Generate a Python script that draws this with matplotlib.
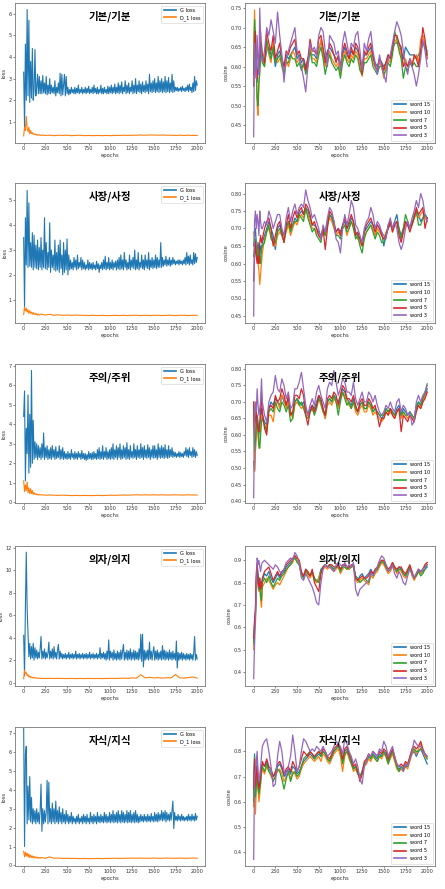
import numpy as np
import matplotlib
matplotlib.use('Agg')
import matplotlib.pyplot as plt
from matplotlib.ticker import MultipleLocator

plt.rcParams['font.family'] = ['DejaVu Sans', 'Noto Sans CJK KR']

# 에폭 (x축)
loss_epochs = np.arange(0, 2001, 10)
d_epochs = np.concatenate([np.arange(0, 200, 10), np.arange(200, 2001, 50)])
cos_epochs = np.concatenate([np.arange(0, 100, 10), np.arange(100, 2001, 25)])

titles = ['기본/기분', '사장/사정', '주의/주위', '의자/의지', '자식/지식']
word_labels = ['word 15', 'word 10', 'word 7', 'word 5', 'word 3']

# ---------------- 기본/기분 ----------------
g1 = [3.3, 0.75, 4.6, 2.0, 6.2, 2.2, 5.7, 1.9, 3.8, 2.1,
      4.4, 2.0, 2.5, 4.35, 2.2, 2.6, 3.2, 2.3, 3.1, 2.3,
      2.9, 2.3, 3.15, 2.35, 2.8, 2.3, 3.1, 2.25, 2.7, 2.3,
      3.0, 2.3, 2.7, 2.35, 2.6, 2.3, 2.9, 2.2, 2.6, 2.35,
      2.8, 2.3, 3.25, 2.2, 3.2, 2.25, 2.7, 3.2, 2.2, 3.1,
      2.3, 2.6, 2.25, 2.5, 2.3, 2.6, 2.35, 2.5, 2.3, 2.6,
      2.3, 2.55, 2.35, 2.7, 2.3, 2.5, 2.35, 2.6, 2.3, 2.5,
      2.35, 2.6, 2.3, 2.55, 2.35, 2.65, 2.3, 2.5, 2.35, 2.6,
      2.3, 2.7, 2.35, 2.55, 2.3, 2.6, 2.3, 2.5, 2.35, 2.7,
      2.3, 2.55, 2.3, 2.6, 2.35, 2.5, 2.3, 2.65, 2.3, 2.6,
      2.35, 2.7, 2.3, 2.6, 2.35, 2.75, 2.3, 2.6, 2.35, 2.8,
      2.3, 2.7, 2.35, 2.85, 2.3, 2.6, 2.4, 2.9, 2.3, 2.7,
      2.35, 2.8, 2.3, 2.6, 2.4, 2.9, 2.3, 2.7, 2.35, 3.0,
      2.3, 2.7, 2.4, 2.9, 2.35, 2.75, 2.3, 2.85, 2.4, 2.7,
      2.35, 2.9, 2.4, 2.75, 2.3, 3.2, 2.4, 2.8, 2.35, 2.9,
      2.4, 3.0, 2.35, 2.8, 2.4, 3.1, 2.35, 2.9, 2.4, 3.0,
      2.35, 2.85, 2.4, 3.1, 2.35, 2.9, 2.4, 3.05, 2.35, 2.8,
      2.4, 3.2, 2.35, 2.9, 2.4, 2.6, 2.45, 2.6, 2.4, 2.55,
      2.45, 2.6, 2.4, 2.65, 2.45, 2.55, 2.4, 2.6, 2.45, 2.7,
      2.4, 2.75, 2.45, 2.6, 2.35, 2.8, 2.4, 3.1, 2.45, 2.9,
      2.7]
d1 = [0.35, 0.75, 0.6, 1.25, 0.7, 0.55, 0.75, 0.45, 0.6, 0.45,
      0.5, 0.42, 0.45, 0.4, 0.43, 0.38, 0.41, 0.38, 0.4, 0.37,
      0.39, 0.37, 0.38, 0.36, 0.38, 0.37, 0.38, 0.36, 0.37, 0.38,
      0.36, 0.37, 0.36, 0.37, 0.36, 0.37, 0.36, 0.37, 0.37, 0.38,
      0.37, 0.38, 0.38, 0.39, 0.38, 0.39, 0.39, 0.38, 0.39, 0.38,
      0.38, 0.37, 0.38, 0.37, 0.38, 0.37, 0.37]
c1_w15 = [0.60, 0.70, 0.64, 0.60, 0.56, 0.60, 0.63, 0.60, 0.64, 0.66,
          0.63, 0.61, 0.64, 0.65, 0.63, 0.64, 0.60, 0.63,
          0.64, 0.62, 0.60, 0.63, 0.62, 0.63, 0.64, 0.65,
          0.62, 0.63, 0.61, 0.62, 0.60, 0.62, 0.64, 0.63,
          0.63, 0.62, 0.65, 0.66, 0.64, 0.62, 0.64, 0.65,
          0.64, 0.63, 0.62, 0.62, 0.60, 0.63, 0.65, 0.63,
          0.62, 0.64, 0.63, 0.65, 0.64, 0.62, 0.60, 0.63,
          0.63, 0.64, 0.65, 0.62, 0.61, 0.60, 0.62, 0.61,
          0.60, 0.61, 0.63, 0.62, 0.64, 0.66, 0.66, 0.66,
          0.64, 0.62, 0.65, 0.64, 0.63, 0.63, 0.63, 0.62,
          0.63, 0.64, 0.66, 0.65, 0.64]
c1_w10 = [0.62, 0.745, 0.66, 0.58, 0.50, 0.475, 0.55, 0.60, 0.62, 0.64,
          0.62, 0.60, 0.66, 0.63, 0.61, 0.66, 0.62, 0.61,
          0.62, 0.61, 0.59, 0.62, 0.60, 0.62, 0.64, 0.63,
          0.61, 0.62, 0.60, 0.60, 0.59, 0.61, 0.65, 0.62,
          0.62, 0.61, 0.64, 0.67, 0.63, 0.60, 0.62, 0.64,
          0.62, 0.61, 0.60, 0.61, 0.58, 0.62, 0.64, 0.62,
          0.61, 0.63, 0.62, 0.64, 0.63, 0.60, 0.575, 0.62,
          0.62, 0.63, 0.64, 0.61, 0.60, 0.59, 0.61, 0.60,
          0.57, 0.60, 0.62, 0.61, 0.64, 0.67, 0.66, 0.65,
          0.63, 0.60, 0.62, 0.60, 0.62, 0.61, 0.62, 0.63,
          0.61, 0.67, 0.68, 0.66, 0.63]
c1_w7 = [0.58, 0.72, 0.67, 0.60, 0.52, 0.50, 0.56, 0.58, 0.63, 0.65,
         0.61, 0.60, 0.67, 0.64, 0.62, 0.65, 0.61, 0.62,
         0.63, 0.60, 0.58, 0.61, 0.61, 0.63, 0.62, 0.62,
         0.60, 0.61, 0.59, 0.61, 0.58, 0.60, 0.64, 0.61,
         0.61, 0.60, 0.63, 0.65, 0.62, 0.58, 0.61, 0.63,
         0.61, 0.60, 0.59, 0.60, 0.57, 0.61, 0.63, 0.61,
         0.60, 0.62, 0.61, 0.63, 0.62, 0.59, 0.58, 0.61,
         0.61, 0.62, 0.63, 0.60, 0.59, 0.58, 0.60, 0.60,
         0.58, 0.59, 0.61, 0.60, 0.63, 0.69, 0.67, 0.64,
         0.62, 0.57, 0.60, 0.59, 0.61, 0.60, 0.61, 0.60,
         0.60, 0.64, 0.66, 0.66, 0.63]
c1_w5 = [0.55, 0.64, 0.69, 0.62, 0.57, 0.59, 0.60, 0.63, 0.69, 0.64,
         0.63, 0.61, 0.69, 0.66, 0.64, 0.68, 0.62, 0.64,
         0.66, 0.62, 0.60, 0.64, 0.63, 0.65, 0.66, 0.67,
         0.63, 0.64, 0.62, 0.62, 0.59, 0.62, 0.67, 0.64,
         0.64, 0.63, 0.67, 0.68, 0.65, 0.61, 0.63, 0.66,
         0.65, 0.63, 0.61, 0.63, 0.60, 0.64, 0.66, 0.64,
         0.62, 0.65, 0.63, 0.66, 0.65, 0.62, 0.58, 0.64,
         0.63, 0.65, 0.66, 0.63, 0.60, 0.59, 0.62, 0.61,
         0.59, 0.61, 0.63, 0.62, 0.65, 0.68, 0.68, 0.66,
         0.65, 0.60, 0.61, 0.60, 0.62, 0.60, 0.63, 0.62,
         0.60, 0.64, 0.70, 0.67, 0.62]
c1_w3 = [0.42, 0.66, 0.60, 0.57, 0.68, 0.62, 0.58, 0.75, 0.67, 0.63,
         0.61, 0.64, 0.70, 0.68, 0.72, 0.69, 0.66, 0.74,
         0.68, 0.63, 0.56, 0.62, 0.64, 0.66, 0.68, 0.70,
         0.64, 0.62, 0.60, 0.57, 0.535, 0.60, 0.66, 0.64,
         0.65, 0.63, 0.68, 0.70, 0.69, 0.64, 0.60, 0.68,
         0.67, 0.66, 0.63, 0.64, 0.59, 0.66, 0.69, 0.66,
         0.63, 0.66, 0.65, 0.68, 0.69, 0.64, 0.59, 0.66,
         0.64, 0.67, 0.69, 0.64, 0.61, 0.58, 0.63, 0.60,
         0.58, 0.56, 0.62, 0.63, 0.66, 0.69, 0.715, 0.70,
         0.68, 0.64, 0.60, 0.58, 0.62, 0.60, 0.58, 0.55,
         0.58, 0.62, 0.67, 0.64, 0.60]

# ---------------- 사장/사정 ----------------
g2 = [3.5, 0.65, 4.3, 2.4, 5.4, 2.3, 4.9, 2.35, 3.3, 2.3,
      3.7, 2.2, 3.6, 2.3, 3.2, 2.25, 3.4, 2.2, 3.1, 2.3,
      3.5, 2.2, 3.0, 2.3, 4.3, 2.25, 3.3, 2.2, 2.9, 2.3,
      4.1, 2.1, 3.0, 2.3, 2.8, 2.2, 3.4, 2.15, 2.9, 2.2,
      3.2, 2.1, 3.4, 2.25, 2.8, 2.0, 3.3, 2.1, 3.0, 2.2,
      3.45, 2.0, 2.8, 2.2, 2.6, 2.25, 2.5, 2.2, 2.7, 2.3,
      2.6, 2.2, 2.8, 2.25, 2.5, 2.3, 2.7, 2.2, 2.6, 2.25,
      2.5, 2.2, 2.4, 2.25, 2.6, 2.2, 2.5, 2.25, 2.45, 2.2,
      2.5, 2.25, 2.4, 2.2, 2.55, 2.25, 2.45, 2.1, 2.4, 2.25,
      2.5, 2.2, 2.6, 2.25, 2.75, 2.2, 2.5, 2.25, 2.7, 2.2,
      2.5, 2.25, 2.6, 2.2, 2.5, 2.3, 2.55, 2.2, 2.6, 2.25,
      2.7, 2.2, 2.8, 2.25, 2.6, 2.2, 2.9, 2.3, 2.6, 2.2,
      2.5, 2.25, 2.8, 2.2, 2.6, 2.3, 2.7, 2.25, 3.0, 2.2,
      2.6, 2.25, 2.9, 2.2, 2.5, 2.3, 2.8, 2.25, 2.6, 2.2,
      2.8, 2.3, 2.6, 2.25, 2.9, 2.2, 2.6, 2.3, 2.7, 2.25,
      2.6, 2.3, 2.8, 2.25, 2.7, 2.3, 2.6, 2.3, 3.3, 2.3,
      2.7, 2.35, 2.6, 2.4, 2.75, 2.35, 2.6, 2.4, 2.7, 2.35,
      2.6, 2.4, 2.7, 2.45, 2.6, 2.4, 2.55, 2.45, 2.6, 2.4,
      2.6, 2.45, 2.55, 2.4, 2.6, 2.45, 2.7, 2.4, 2.9, 2.45,
      2.75, 2.4, 2.8, 2.45, 2.6, 2.4, 2.9, 2.45, 2.85, 2.5,
      2.7]
d2 = [0.4, 0.7, 0.55, 0.65, 0.5, 0.6, 0.45, 0.55, 0.45, 0.5,
      0.42, 0.48, 0.4, 0.45, 0.39, 0.43, 0.38, 0.42, 0.38, 0.4,
      0.42, 0.38, 0.41, 0.37, 0.39, 0.37, 0.38, 0.37, 0.38, 0.37,
      0.37, 0.36, 0.37, 0.36, 0.37, 0.36, 0.36, 0.37, 0.36, 0.37,
      0.36, 0.37, 0.37, 0.36, 0.37, 0.36, 0.37, 0.37, 0.36, 0.37,
      0.37, 0.36, 0.37, 0.37, 0.36, 0.37, 0.37]
c2_w15 = [0.65, 0.68, 0.70, 0.66, 0.63, 0.66, 0.64, 0.62, 0.65, 0.64,
          0.66, 0.68, 0.70, 0.72, 0.70, 0.68, 0.64, 0.70,
          0.71, 0.69, 0.68, 0.70, 0.72, 0.70, 0.71, 0.73,
          0.72, 0.74, 0.75, 0.74, 0.76, 0.75, 0.73, 0.71,
          0.71, 0.70, 0.69, 0.68, 0.70, 0.69, 0.72, 0.74,
          0.73, 0.71, 0.69, 0.70, 0.69, 0.71, 0.72, 0.70,
          0.71, 0.73, 0.72, 0.69, 0.68, 0.67, 0.66, 0.69,
          0.70, 0.71, 0.72, 0.71, 0.70, 0.71, 0.70, 0.69,
          0.65, 0.68, 0.70, 0.71, 0.70, 0.72, 0.74, 0.70,
          0.68, 0.70, 0.72, 0.71, 0.70, 0.72, 0.73, 0.75,
          0.74, 0.72, 0.73, 0.74, 0.73]
c2_w10 = [0.69, 0.66, 0.63, 0.66, 0.62, 0.60, 0.58, 0.54, 0.57, 0.60,
          0.63, 0.67, 0.69, 0.70, 0.68, 0.66, 0.65, 0.68,
          0.69, 0.68, 0.67, 0.69, 0.71, 0.68, 0.70, 0.72,
          0.71, 0.73, 0.74, 0.73, 0.75, 0.74, 0.72, 0.70,
          0.70, 0.69, 0.68, 0.67, 0.69, 0.68, 0.71, 0.73,
          0.72, 0.70, 0.68, 0.69, 0.68, 0.70, 0.71, 0.68,
          0.70, 0.72, 0.71, 0.68, 0.67, 0.66, 0.65, 0.68,
          0.69, 0.70, 0.71, 0.70, 0.68, 0.70, 0.69, 0.68,
          0.67, 0.69, 0.70, 0.72, 0.69, 0.71, 0.72, 0.69,
          0.67, 0.69, 0.71, 0.72, 0.70, 0.71, 0.73, 0.74,
          0.73, 0.74, 0.75, 0.73, 0.72]
c2_w7 = [0.62, 0.65, 0.67, 0.63, 0.61, 0.64, 0.60, 0.62, 0.60, 0.64,
         0.65, 0.66, 0.69, 0.71, 0.67, 0.66, 0.66, 0.69,
         0.70, 0.68, 0.66, 0.70, 0.72, 0.69, 0.71, 0.72,
         0.72, 0.74, 0.73, 0.72, 0.76, 0.73, 0.71, 0.69,
         0.70, 0.68, 0.67, 0.66, 0.70, 0.68, 0.71, 0.74,
         0.73, 0.71, 0.68, 0.68, 0.67, 0.70, 0.71, 0.69,
         0.70, 0.72, 0.70, 0.67, 0.68, 0.65, 0.63, 0.67,
         0.69, 0.70, 0.71, 0.69, 0.67, 0.69, 0.68, 0.66,
         0.66, 0.68, 0.71, 0.72, 0.70, 0.71, 0.72, 0.70,
         0.67, 0.70, 0.74, 0.72, 0.70, 0.71, 0.74, 0.75,
         0.71, 0.71, 0.73, 0.74, 0.73]
c2_w5 = [0.55, 0.62, 0.66, 0.62, 0.60, 0.62, 0.60, 0.66, 0.68, 0.66,
         0.67, 0.70, 0.72, 0.73, 0.70, 0.65, 0.68, 0.71,
         0.72, 0.69, 0.66, 0.71, 0.74, 0.70, 0.73, 0.75,
         0.73, 0.75, 0.76, 0.74, 0.77, 0.76, 0.74, 0.71,
         0.72, 0.70, 0.68, 0.67, 0.70, 0.64, 0.70, 0.75,
         0.74, 0.72, 0.69, 0.70, 0.68, 0.71, 0.73, 0.70,
         0.72, 0.74, 0.72, 0.68, 0.69, 0.67, 0.65, 0.69,
         0.71, 0.72, 0.73, 0.71, 0.69, 0.71, 0.70, 0.68,
         0.67, 0.68, 0.70, 0.72, 0.69, 0.71, 0.72, 0.68,
         0.66, 0.69, 0.72, 0.71, 0.69, 0.71, 0.73, 0.76,
         0.74, 0.75, 0.76, 0.70, 0.73]
c2_w3 = [0.45, 0.72, 0.75, 0.70, 0.74, 0.72, 0.68, 0.75, 0.72, 0.70,
         0.70, 0.72, 0.71, 0.75, 0.73, 0.70, 0.72, 0.74,
         0.74, 0.70, 0.68, 0.73, 0.76, 0.72, 0.75, 0.77,
         0.74, 0.76, 0.77, 0.76, 0.81, 0.78, 0.76, 0.73,
         0.74, 0.72, 0.70, 0.67, 0.71, 0.69, 0.73, 0.76,
         0.75, 0.72, 0.67, 0.66, 0.63, 0.70, 0.74, 0.71,
         0.74, 0.78, 0.76, 0.71, 0.70, 0.68, 0.66, 0.70,
         0.72, 0.73, 0.76, 0.74, 0.70, 0.72, 0.71, 0.69,
         0.68, 0.67, 0.71, 0.73, 0.70, 0.72, 0.70, 0.66,
         0.64, 0.66, 0.70, 0.72, 0.70, 0.73, 0.75, 0.78,
         0.76, 0.80, 0.78, 0.74, 0.72]

# ---------------- 주의/주위 ----------------
g3 = [4.4, 5.7, 1.1, 3.8, 2.5, 5.5, 1.5, 4.5, 1.8, 6.75,
      2.0, 4.2, 2.2, 3.1, 2.3, 3.0, 2.2, 2.9, 2.3, 2.8,
      2.2, 3.0, 2.3, 3.55, 2.2, 2.8, 2.3, 2.9, 2.2, 2.7,
      2.25, 2.8, 2.2, 2.9, 2.3, 2.7, 2.2, 2.85, 2.25, 2.6,
      2.3, 2.9, 2.2, 2.7, 2.25, 2.8, 2.2, 2.6, 2.25, 2.5,
      2.2, 2.6, 2.25, 2.5, 2.2, 2.7, 2.3, 2.5, 2.2, 2.6,
      2.25, 2.5, 2.2, 2.6, 2.3, 2.5, 2.2, 2.65, 2.25, 2.5,
      2.2, 2.5, 2.15, 2.45, 2.2, 2.6, 2.25, 2.5, 2.2, 2.55,
      2.2, 2.6, 2.25, 2.5, 2.2, 2.7, 2.25, 2.8, 2.2, 2.6,
      2.25, 2.9, 2.2, 2.6, 2.3, 2.8, 2.2, 2.6, 2.25, 2.7,
      2.2, 2.8, 2.25, 3.0, 2.2, 2.7, 2.3, 2.9, 2.2, 2.8,
      2.3, 3.0, 2.2, 2.7, 2.25, 2.9, 2.3, 2.8, 2.2, 3.05,
      2.25, 2.7, 2.2, 2.9, 2.3, 2.6, 2.25, 3.0, 2.3, 2.7,
      2.2, 2.9, 2.3, 2.7, 2.25, 3.0, 2.3, 2.8, 2.2, 2.9,
      2.3, 2.7, 2.25, 2.95, 2.3, 2.8, 2.2, 2.7, 2.3, 2.9,
      2.25, 2.9, 2.3, 2.7, 2.2, 3.0, 2.3, 2.8, 2.25, 2.9,
      2.3, 2.8, 2.25, 2.95, 2.3, 2.7, 2.25, 2.9, 2.3, 2.7,
      2.35, 2.8, 2.3, 2.6, 2.35, 2.55, 2.3, 2.5, 2.35, 2.6,
      2.3, 2.55, 2.35, 2.5, 2.3, 2.6, 2.4, 2.8, 2.35, 2.7,
      2.3, 2.8, 2.4, 2.6, 2.3, 2.8, 2.35, 2.7, 2.3, 2.6,
      2.4]
d3 = [1.1, 0.55, 0.9, 0.6, 1.05, 0.5, 0.75, 0.45, 0.7, 0.45,
      0.6, 0.42, 0.5, 0.4, 0.45, 0.39, 0.42, 0.38, 0.4, 0.38,
      0.39, 0.37, 0.38, 0.37, 0.36, 0.37, 0.36, 0.35, 0.36, 0.35,
      0.36, 0.35, 0.35, 0.36, 0.35, 0.36, 0.37, 0.36, 0.37, 0.38,
      0.37, 0.38, 0.39, 0.38, 0.39, 0.38, 0.39, 0.38, 0.39, 0.38,
      0.38, 0.39, 0.38, 0.38, 0.39, 0.38, 0.38]
c3_w15 = [0.52, 0.49, 0.55, 0.62, 0.66, 0.64, 0.60, 0.63, 0.65, 0.68,
          0.66, 0.64, 0.63, 0.68, 0.70, 0.69, 0.71, 0.70,
          0.69, 0.72, 0.70, 0.69, 0.71, 0.67, 0.66, 0.70,
          0.71, 0.70, 0.69, 0.70, 0.68, 0.66, 0.68, 0.69,
          0.68, 0.70, 0.72, 0.70, 0.68, 0.65, 0.70, 0.71,
          0.70, 0.72, 0.71, 0.70, 0.72, 0.74, 0.73, 0.71,
          0.70, 0.69, 0.71, 0.68, 0.67, 0.69, 0.70, 0.68,
          0.68, 0.70, 0.69, 0.67, 0.68, 0.67, 0.66, 0.65,
          0.66, 0.68, 0.67, 0.68, 0.67, 0.66, 0.68, 0.69,
          0.66, 0.68, 0.67, 0.66, 0.67, 0.66, 0.65, 0.69,
          0.70, 0.69, 0.71, 0.72, 0.74]
c3_w10 = [0.70, 0.49, 0.56, 0.60, 0.64, 0.60, 0.56, 0.58, 0.62, 0.66,
          0.65, 0.63, 0.62, 0.66, 0.66, 0.64, 0.69, 0.70,
          0.68, 0.72, 0.71, 0.68, 0.70, 0.67, 0.65, 0.69,
          0.70, 0.69, 0.68, 0.69, 0.67, 0.66, 0.67, 0.68,
          0.67, 0.69, 0.71, 0.69, 0.67, 0.65, 0.69, 0.70,
          0.69, 0.71, 0.70, 0.68, 0.71, 0.73, 0.72, 0.70,
          0.69, 0.68, 0.70, 0.67, 0.66, 0.68, 0.69, 0.67,
          0.67, 0.69, 0.68, 0.66, 0.67, 0.66, 0.65, 0.64,
          0.65, 0.67, 0.66, 0.67, 0.66, 0.65, 0.67, 0.68,
          0.65, 0.67, 0.66, 0.65, 0.66, 0.65, 0.64, 0.68,
          0.69, 0.68, 0.70, 0.72, 0.73]
c3_w7 = [0.69, 0.55, 0.58, 0.62, 0.65, 0.62, 0.57, 0.56, 0.60, 0.64,
         0.65, 0.63, 0.61, 0.67, 0.68, 0.67, 0.70, 0.68,
         0.67, 0.70, 0.69, 0.67, 0.69, 0.64, 0.65, 0.70,
         0.71, 0.69, 0.70, 0.68, 0.66, 0.65, 0.67, 0.68,
         0.66, 0.68, 0.71, 0.70, 0.67, 0.66, 0.70, 0.71,
         0.70, 0.72, 0.70, 0.66, 0.70, 0.73, 0.71, 0.69,
         0.70, 0.68, 0.70, 0.68, 0.67, 0.69, 0.70, 0.68,
         0.68, 0.70, 0.69, 0.67, 0.68, 0.67, 0.66, 0.66,
         0.66, 0.68, 0.67, 0.68, 0.67, 0.66, 0.67, 0.68,
         0.66, 0.67, 0.66, 0.66, 0.67, 0.66, 0.65, 0.68,
         0.70, 0.69, 0.71, 0.73, 0.755]
c3_w5 = [0.70, 0.60, 0.65, 0.68, 0.63, 0.62, 0.61, 0.64, 0.68, 0.73,
         0.67, 0.62, 0.60, 0.68, 0.69, 0.68, 0.72, 0.70,
         0.71, 0.74, 0.72, 0.69, 0.72, 0.66, 0.67, 0.72,
         0.72, 0.71, 0.74, 0.72, 0.66, 0.63, 0.67, 0.69,
         0.67, 0.69, 0.72, 0.71, 0.68, 0.66, 0.71, 0.72,
         0.71, 0.73, 0.72, 0.69, 0.72, 0.75, 0.74, 0.71,
         0.71, 0.70, 0.72, 0.69, 0.67, 0.70, 0.71, 0.69,
         0.69, 0.71, 0.70, 0.68, 0.69, 0.66, 0.625, 0.65,
         0.65, 0.67, 0.66, 0.68, 0.66, 0.65, 0.67, 0.68,
         0.61, 0.66, 0.65, 0.64, 0.66, 0.65, 0.64, 0.67,
         0.69, 0.68, 0.70, 0.71, 0.73]
c3_w3 = [0.41, 0.64, 0.70, 0.67, 0.74, 0.69, 0.66, 0.68, 0.70, 0.77,
         0.70, 0.66, 0.64, 0.70, 0.72, 0.73, 0.78, 0.74,
         0.73, 0.77, 0.75, 0.71, 0.73, 0.68, 0.69, 0.74,
         0.74, 0.76, 0.79, 0.74, 0.69, 0.66, 0.69, 0.71,
         0.69, 0.73, 0.75, 0.72, 0.70, 0.68, 0.74, 0.76,
         0.75, 0.795, 0.76, 0.72, 0.74, 0.77, 0.76, 0.73,
         0.73, 0.72, 0.76, 0.71, 0.69, 0.71, 0.73, 0.70,
         0.70, 0.73, 0.72, 0.70, 0.72, 0.69, 0.67, 0.66,
         0.67, 0.69, 0.68, 0.70, 0.68, 0.67, 0.70, 0.71,
         0.67, 0.69, 0.68, 0.66, 0.67, 0.63, 0.64, 0.70,
         0.72, 0.70, 0.72, 0.73, 0.75]

# ---------------- 의자/의지 ----------------
g4 = [4.2, 0.6, 6.8, 11.6, 6.5, 4.5, 2.3, 3.5, 2.1, 3.2,
      2.2, 3.5, 2.0, 3.1, 2.2, 2.9, 2.1, 2.7, 2.2, 3.0,
      4.1, 2.1, 2.8, 2.2, 3.0, 2.1, 2.7, 2.2, 2.6, 3.6,
      2.1, 2.8, 2.2, 3.0, 2.1, 3.2, 2.2, 2.7, 2.1, 2.9,
      3.4, 2.1, 2.8, 2.2, 2.6, 2.1, 2.5, 2.2, 2.6, 2.1,
      2.5, 2.2, 2.7, 2.1, 2.5, 2.2, 2.6, 2.1, 2.5, 2.2,
      2.8, 2.1, 2.5, 2.2, 2.6, 2.1, 2.5, 2.2, 2.6, 2.1,
      2.5, 2.2, 2.6, 2.1, 2.5, 2.2, 2.7, 2.1, 2.5, 2.2,
      2.6, 2.1, 2.5, 2.2, 2.6, 2.1, 2.5, 2.2, 3.1, 2.1,
      2.6, 2.2, 2.7, 2.1, 2.6, 2.0, 2.8, 2.1, 3.8, 2.0,
      2.8, 2.2, 2.7, 2.0, 2.9, 2.1, 2.6, 2.0, 2.8, 2.1,
      2.7, 2.0, 2.9, 2.1, 2.8, 3.4, 2.0, 2.7, 2.1, 2.9,
      2.0, 2.8, 2.1, 3.0, 2.0, 2.7, 2.1, 2.9, 2.0, 2.8,
      2.1, 2.7, 2.0, 3.0, 2.1, 4.3, 1.9, 4.3, 1.4, 2.9,
      2.0, 2.8, 2.1, 2.9, 2.0, 3.6, 2.1, 2.8, 2.0, 2.7,
      3.2, 2.0, 2.8, 2.1, 2.9, 2.0, 2.7, 2.1, 2.8, 2.0,
      3.3, 2.1, 2.9, 2.0, 2.8, 2.1, 2.7, 2.0, 2.9, 2.1,
      2.7, 2.0, 2.8, 2.1, 2.6, 2.0, 3.7, 1.3, 2.7, 2.0,
      2.6, 2.1, 2.7, 2.0, 2.6, 2.1, 2.5, 2.0, 2.6, 2.1,
      2.5, 2.0, 2.6, 2.1, 2.5, 2.0, 2.6, 4.1, 2.0, 2.5,
      2.1]
d4 = [0.35, 1.1, 0.8, 0.9, 0.6, 0.7, 0.5, 0.6, 0.45, 0.5,
      0.42, 0.48, 0.4, 0.45, 0.4, 0.42, 0.39, 0.4, 0.38, 0.39,
      0.38, 0.37, 0.38, 0.37, 0.38, 0.37, 0.36, 0.37, 0.36, 0.37,
      0.36, 0.37, 0.36, 0.37, 0.36, 0.37, 0.38, 0.37, 0.38, 0.40,
      0.38, 0.42, 0.40, 0.70, 0.42, 0.48, 0.42, 0.45, 0.40, 0.44,
      0.42, 0.72, 0.43, 0.40, 0.45, 0.50, 0.40]
c4_w15 = [0.52, 0.60, 0.66, 0.82, 0.88, 0.84, 0.80, 0.82, 0.78, 0.80,
          0.81, 0.84, 0.83, 0.85, 0.82, 0.80, 0.82, 0.84,
          0.82, 0.84, 0.85, 0.87, 0.88, 0.89, 0.90, 0.92,
          0.90, 0.89, 0.84, 0.82, 0.85, 0.84, 0.83, 0.85,
          0.82, 0.80, 0.82, 0.86, 0.87, 0.88, 0.87, 0.88,
          0.87, 0.86, 0.87, 0.88, 0.86, 0.87, 0.88, 0.87,
          0.86, 0.87, 0.88, 0.82, 0.81, 0.83, 0.84, 0.82,
          0.83, 0.84, 0.86, 0.84, 0.85, 0.86, 0.88, 0.89,
          0.89, 0.87, 0.85, 0.86, 0.88, 0.86, 0.85, 0.87,
          0.86, 0.84, 0.83, 0.85, 0.87, 0.84, 0.82, 0.84,
          0.86, 0.84, 0.85, 0.86, 0.87]
c4_w10 = [0.50, 0.62, 0.67, 0.80, 0.85, 0.78, 0.76, 0.80, 0.72, 0.69,
          0.78, 0.80, 0.82, 0.81, 0.79, 0.77, 0.79, 0.80,
          0.79, 0.81, 0.83, 0.85, 0.87, 0.88, 0.89, 0.92,
          0.90, 0.88, 0.83, 0.83, 0.85, 0.83, 0.82, 0.84,
          0.81, 0.80, 0.82, 0.85, 0.86, 0.87, 0.86, 0.87,
          0.86, 0.85, 0.86, 0.87, 0.84, 0.86, 0.87, 0.86,
          0.86, 0.87, 0.87, 0.81, 0.80, 0.81, 0.82, 0.81,
          0.80, 0.79, 0.83, 0.82, 0.84, 0.85, 0.87, 0.89,
          0.88, 0.86, 0.84, 0.85, 0.87, 0.86, 0.84, 0.86,
          0.85, 0.83, 0.82, 0.84, 0.87, 0.83, 0.81, 0.83,
          0.85, 0.84, 0.86, 0.88, 0.89]
c4_w7 = [0.53, 0.61, 0.64, 0.78, 0.86, 0.82, 0.77, 0.79, 0.74, 0.72,
         0.80, 0.82, 0.80, 0.83, 0.80, 0.78, 0.80, 0.82,
         0.81, 0.83, 0.84, 0.86, 0.87, 0.88, 0.90, 0.91,
         0.89, 0.88, 0.84, 0.82, 0.86, 0.84, 0.83, 0.85,
         0.82, 0.81, 0.80, 0.85, 0.87, 0.88, 0.87, 0.88,
         0.87, 0.86, 0.87, 0.87, 0.85, 0.87, 0.87, 0.86,
         0.87, 0.87, 0.88, 0.83, 0.82, 0.80, 0.81, 0.82,
         0.81, 0.80, 0.84, 0.83, 0.85, 0.86, 0.88, 0.90,
         0.89, 0.87, 0.85, 0.86, 0.89, 0.87, 0.85, 0.86,
         0.86, 0.84, 0.83, 0.85, 0.87, 0.84, 0.82, 0.83,
         0.85, 0.83, 0.84, 0.86, 0.88]
c4_w5 = [0.55, 0.63, 0.68, 0.84, 0.89, 0.80, 0.78, 0.82, 0.77, 0.78,
         0.82, 0.85, 0.86, 0.87, 0.84, 0.81, 0.83, 0.85,
         0.83, 0.85, 0.86, 0.88, 0.89, 0.90, 0.91, 0.92,
         0.91, 0.90, 0.85, 0.83, 0.86, 0.85, 0.83, 0.86,
         0.80, 0.78, 0.76, 0.84, 0.87, 0.88, 0.87, 0.88,
         0.88, 0.87, 0.87, 0.88, 0.86, 0.88, 0.88, 0.87,
         0.87, 0.88, 0.88, 0.82, 0.81, 0.82, 0.83, 0.82,
         0.82, 0.83, 0.85, 0.84, 0.86, 0.87, 0.89, 0.90,
         0.90, 0.88, 0.86, 0.87, 0.89, 0.87, 0.86, 0.87,
         0.87, 0.85, 0.84, 0.86, 0.88, 0.85, 0.82, 0.84,
         0.86, 0.85, 0.86, 0.88, 0.89]
c4_w3 = [0.37, 0.52, 0.62, 0.75, 0.91, 0.88, 0.90, 0.87, 0.85, 0.88,
         0.89, 0.90, 0.89, 0.88, 0.87, 0.86, 0.88, 0.87,
         0.85, 0.84, 0.86, 0.89, 0.90, 0.91, 0.90, 0.935,
         0.92, 0.89, 0.82, 0.81, 0.84, 0.82, 0.80, 0.78,
         0.75, 0.71, 0.70, 0.80, 0.86, 0.88, 0.87, 0.87,
         0.86, 0.85, 0.88, 0.89, 0.88, 0.87, 0.89, 0.87,
         0.88, 0.87, 0.89, 0.77, 0.74, 0.77, 0.78, 0.79,
         0.80, 0.81, 0.84, 0.83, 0.85, 0.87, 0.90, 0.92,
         0.91, 0.88, 0.85, 0.86, 0.88, 0.84, 0.82, 0.85,
         0.83, 0.80, 0.79, 0.83, 0.86, 0.84, 0.82, 0.84,
         0.86, 0.85, 0.86, 0.87, 0.88]

# ---------------- 자식/지식 ----------------
g5 = [7.25, 1.0, 5.9, 6.3, 2.2, 4.2, 2.4, 4.7, 2.3, 3.6,
      2.2, 3.0, 2.3, 2.9, 2.2, 3.0, 2.3, 2.8, 2.2, 2.9,
      4.3, 1.8, 3.0, 2.2, 2.9, 2.3, 2.8, 4.5, 2.2, 4.4,
      2.3, 3.0, 2.2, 3.3, 2.3, 3.0, 2.2, 3.4, 2.3, 2.9,
      2.2, 3.1, 2.3, 2.8, 2.2, 3.0, 2.3, 2.7, 2.2, 2.9,
      2.3, 2.7, 2.2, 2.6, 2.3, 2.8, 2.2, 2.6, 2.3, 2.5,
      2.2, 2.6, 2.3, 2.7, 2.2, 2.5, 2.3, 2.6, 2.2, 2.7,
      2.3, 2.6, 2.2, 2.7, 2.3, 2.5, 2.2, 2.8, 2.3, 2.6,
      2.2, 2.7, 2.3, 2.6, 2.2, 2.8, 2.3, 2.6, 2.25, 2.7,
      2.3, 2.6, 2.25, 2.8, 2.3, 2.7, 2.25, 2.6, 2.3, 2.8,
      2.25, 2.7, 2.3, 2.9, 2.25, 2.7, 2.3, 2.8, 2.25, 2.9,
      2.3, 2.7, 2.25, 2.9, 2.3, 2.8, 2.25, 2.7, 2.3, 2.9,
      2.25, 2.8, 2.3, 2.9, 2.25, 2.7, 2.3, 2.8, 2.25, 2.9,
      2.3, 2.7, 2.25, 2.6, 2.3, 2.7, 2.35, 2.6, 2.3, 2.7,
      2.35, 2.6, 2.3, 2.7, 2.35, 2.6, 2.3, 2.75, 2.35, 2.6,
      2.3, 2.8, 2.35, 2.7, 2.3, 2.8, 2.35, 2.7, 2.4, 2.9,
      2.35, 2.8, 2.4, 2.9, 2.3, 2.8, 2.4, 2.7, 2.35, 2.8,
      2.4, 2.9, 3.4, 1.95, 2.8, 2.4, 2.6, 2.35, 2.7, 2.4,
      2.6, 2.35, 2.7, 2.4, 2.6, 2.35, 2.55, 2.4, 2.6, 2.35,
      2.7, 2.4, 2.6, 2.35, 2.7, 2.4, 2.6, 2.35, 2.75, 2.4,
      2.6]
d5 = [0.75, 0.45, 0.7, 0.5, 0.65, 0.45, 0.6, 0.42, 0.55, 0.42,
      0.5, 0.4, 0.48, 0.4, 0.45, 0.39, 0.43, 0.38, 0.42, 0.38,
      0.42, 0.38, 0.45, 0.38, 0.39, 0.37, 0.38, 0.37, 0.37, 0.36,
      0.37, 0.36, 0.36, 0.37, 0.36, 0.37, 0.37, 0.38, 0.37, 0.38,
      0.38, 0.39, 0.38, 0.39, 0.38, 0.38, 0.39, 0.38, 0.38, 0.39,
      0.38, 0.38, 0.39, 0.38, 0.38, 0.39, 0.38]
c5_w15 = [0.62, 0.79, 0.68, 0.72, 0.76, 0.70, 0.66, 0.68, 0.72, 0.74,
          0.75, 0.74, 0.76, 0.73, 0.72, 0.70, 0.71, 0.74,
          0.75, 0.73, 0.70, 0.72, 0.73, 0.71, 0.74, 0.73,
          0.71, 0.72, 0.74, 0.76, 0.77, 0.78, 0.79, 0.78,
          0.77, 0.78, 0.79, 0.78, 0.80, 0.79, 0.77, 0.76,
          0.78, 0.80, 0.81, 0.82, 0.80, 0.76, 0.80, 0.81,
          0.78, 0.76, 0.73, 0.74, 0.72, 0.70, 0.72, 0.75,
          0.76, 0.78, 0.77, 0.79, 0.78, 0.77, 0.79, 0.78,
          0.80, 0.79, 0.76, 0.78, 0.80, 0.77, 0.74, 0.73,
          0.74, 0.73, 0.75, 0.74, 0.77, 0.79, 0.80, 0.78,
          0.80, 0.81, 0.79, 0.77, 0.75]
c5_w10 = [0.58, 0.74, 0.55, 0.65, 0.72, 0.66, 0.60, 0.63, 0.68, 0.71,
          0.73, 0.71, 0.74, 0.72, 0.70, 0.69, 0.70, 0.72,
          0.73, 0.71, 0.68, 0.70, 0.72, 0.69, 0.72, 0.71,
          0.69, 0.70, 0.73, 0.75, 0.76, 0.77, 0.78, 0.77,
          0.76, 0.77, 0.78, 0.76, 0.79, 0.78, 0.76, 0.75,
          0.77, 0.79, 0.80, 0.81, 0.78, 0.72, 0.78, 0.80,
          0.77, 0.75, 0.72, 0.73, 0.71, 0.69, 0.71, 0.74,
          0.75, 0.77, 0.76, 0.78, 0.77, 0.76, 0.78, 0.77,
          0.79, 0.78, 0.75, 0.77, 0.79, 0.76, 0.73, 0.72,
          0.73, 0.72, 0.74, 0.73, 0.76, 0.79, 0.81, 0.79,
          0.81, 0.83, 0.80, 0.78, 0.77]
c5_w7 = [0.60, 0.78, 0.62, 0.66, 0.70, 0.65, 0.63, 0.65, 0.67, 0.72,
         0.74, 0.72, 0.75, 0.72, 0.71, 0.68, 0.70, 0.73,
         0.72, 0.69, 0.65, 0.69, 0.72, 0.68, 0.71, 0.72,
         0.70, 0.71, 0.74, 0.77, 0.78, 0.79, 0.80, 0.79,
         0.77, 0.79, 0.80, 0.78, 0.80, 0.79, 0.77, 0.76,
         0.78, 0.80, 0.81, 0.82, 0.80, 0.75, 0.79, 0.80,
         0.78, 0.75, 0.73, 0.74, 0.71, 0.70, 0.72, 0.75,
         0.76, 0.78, 0.77, 0.79, 0.77, 0.76, 0.78, 0.78,
         0.80, 0.78, 0.75, 0.78, 0.80, 0.77, 0.74, 0.72,
         0.74, 0.73, 0.74, 0.74, 0.77, 0.80, 0.81, 0.80,
         0.80, 0.81, 0.80, 0.79, 0.77]
c5_w5 = [0.65, 0.77, 0.66, 0.70, 0.74, 0.68, 0.65, 0.67, 0.70, 0.73,
         0.76, 0.74, 0.77, 0.74, 0.73, 0.70, 0.72, 0.75,
         0.76, 0.74, 0.71, 0.73, 0.74, 0.72, 0.76, 0.74,
         0.72, 0.74, 0.77, 0.80, 0.79, 0.78, 0.80, 0.79,
         0.78, 0.79, 0.80, 0.79, 0.81, 0.80, 0.78, 0.77,
         0.79, 0.81, 0.82, 0.83, 0.81, 0.77, 0.81, 0.82,
         0.79, 0.77, 0.74, 0.75, 0.72, 0.68, 0.71, 0.76,
         0.77, 0.79, 0.78, 0.80, 0.79, 0.78, 0.80, 0.79,
         0.81, 0.80, 0.77, 0.79, 0.81, 0.78, 0.75, 0.74,
         0.75, 0.74, 0.76, 0.75, 0.78, 0.81, 0.82, 0.81,
         0.82, 0.84, 0.81, 0.79, 0.78]
c5_w3 = [0.37, 0.70, 0.72, 0.76, 0.80, 0.72, 0.68, 0.70, 0.74, 0.78,
         0.82, 0.84, 0.85, 0.80, 0.74, 0.66, 0.67, 0.78,
         0.84, 0.80, 0.72, 0.70, 0.74, 0.78, 0.865, 0.80,
         0.72, 0.74, 0.80, 0.85, 0.84, 0.82, 0.80, 0.81,
         0.80, 0.82, 0.81, 0.80, 0.82, 0.80, 0.78, 0.79,
         0.80, 0.82, 0.84, 0.83, 0.82, 0.79, 0.85, 0.83,
         0.80, 0.78, 0.75, 0.77, 0.74, 0.69, 0.67, 0.74,
         0.76, 0.79, 0.78, 0.80, 0.79, 0.78, 0.81, 0.80,
         0.84, 0.82, 0.78, 0.80, 0.82, 0.78, 0.75, 0.74,
         0.74, 0.72, 0.75, 0.74, 0.77, 0.80, 0.845, 0.83,
         0.82, 0.82, 0.80, 0.79, 0.78]

g_losses = [g1, g2, g3, g4, g5]
d_losses = [d1, d2, d3, d4, d5]
cosines = [[c1_w15, c1_w10, c1_w7, c1_w5, c1_w3],
           [c2_w15, c2_w10, c2_w7, c2_w5, c2_w3],
           [c3_w15, c3_w10, c3_w7, c3_w5, c3_w3],
           [c4_w15, c4_w10, c4_w7, c4_w5, c4_w3],
           [c5_w15, c5_w10, c5_w7, c5_w5, c5_w3]]

# 축 범위 / 눈금 간격 (레이아웃)
loss_ylims = [(0.02, 6.5), (0.06, 5.70), (-0.03, 7.08), (-0.3, 12.15), (-0.03, 7.32)]
loss_steps = [1, 1, 1, 2, 1]
cos_ylims = [(0.404, 0.763), (0.43, 0.83), (0.394, 0.815), (0.337, 0.964), (0.344, 0.897)]
cos_steps = [0.05, 0.05, 0.05, 0.1, 0.1]
row_px = [(3, 143), (183, 323), (364, 503), (546, 686), (727, 866)]

W, H = 445, 889
fig = plt.figure(figsize=(W / 100, H / 100), dpi=100)
word_colors = ['#1f77b4', '#ff7f0e', '#2ca02c', '#d62728', '#9467bd']


def style_axes(ax, ylabel):
    for sp in ax.spines.values():
        sp.set_linewidth(0.6)
        sp.set_color('#777777')
    ax.tick_params(labelsize=3.6, length=1.5, width=0.4, pad=1, colors='#333333')
    ax.set_xlabel('epochs', fontsize=3.8, labelpad=1, color='#333333')
    ax.set_ylabel(ylabel, fontsize=3.8, labelpad=1, color='#333333')
    ax.set_xlim(-100, 2090)
    ax.xaxis.set_major_locator(MultipleLocator(250))


def add_legend(ax, loc, spacing):
    leg = ax.legend(loc=loc, fontsize=3.6, handlelength=2.4, borderpad=0.5,
                    labelspacing=spacing, framealpha=0.9, edgecolor='#cccccc')
    leg.get_frame().set_linewidth(0.4)
    for line in leg.get_lines():
        line.set_linewidth(1.2)


for i in range(5):
    top, bot = row_px[i]
    # 왼쪽: loss
    ax = fig.add_axes([15 / W, 1 - bot / H, 190 / W, (bot - top) / H])
    ax.plot(loss_epochs, g_losses[i], color='#1f77b4', lw=0.8, label='G loss')
    ax.plot(d_epochs, d_losses[i], color='#ff7f0e', lw=0.8, label='D_1 loss')
    ax.set_ylim(*loss_ylims[i])
    ax.yaxis.set_major_locator(MultipleLocator(loss_steps[i]))
    style_axes(ax, 'loss')
    ax.text(0.5, 0.905, titles[i], transform=ax.transAxes, ha='center', va='center',
            fontsize=7.5, fontweight='bold', family=['Noto Sans CJK KR', 'DejaVu Sans'])
    add_legend(ax, 'upper right', 0.4)

    # 오른쪽: cosine
    ax = fig.add_axes([245 / W, 1 - bot / H, 190 / W, (bot - top) / H])
    for vals, lab, col in zip(cosines[i], word_labels, word_colors):
        ax.plot(cos_epochs, vals, color=col, lw=0.9, label=lab)
    ax.set_ylim(*cos_ylims[i])
    ax.yaxis.set_major_locator(MultipleLocator(cos_steps[i]))
    style_axes(ax, 'cosine')
    ax.text(0.5, 0.905, titles[i], transform=ax.transAxes, ha='center', va='center',
            fontsize=7.5, fontweight='bold', family=['Noto Sans CJK KR', 'DejaVu Sans'])
    add_legend(ax, 'lower right', 0.55)

plt.savefig('out.png', dpi=100)
